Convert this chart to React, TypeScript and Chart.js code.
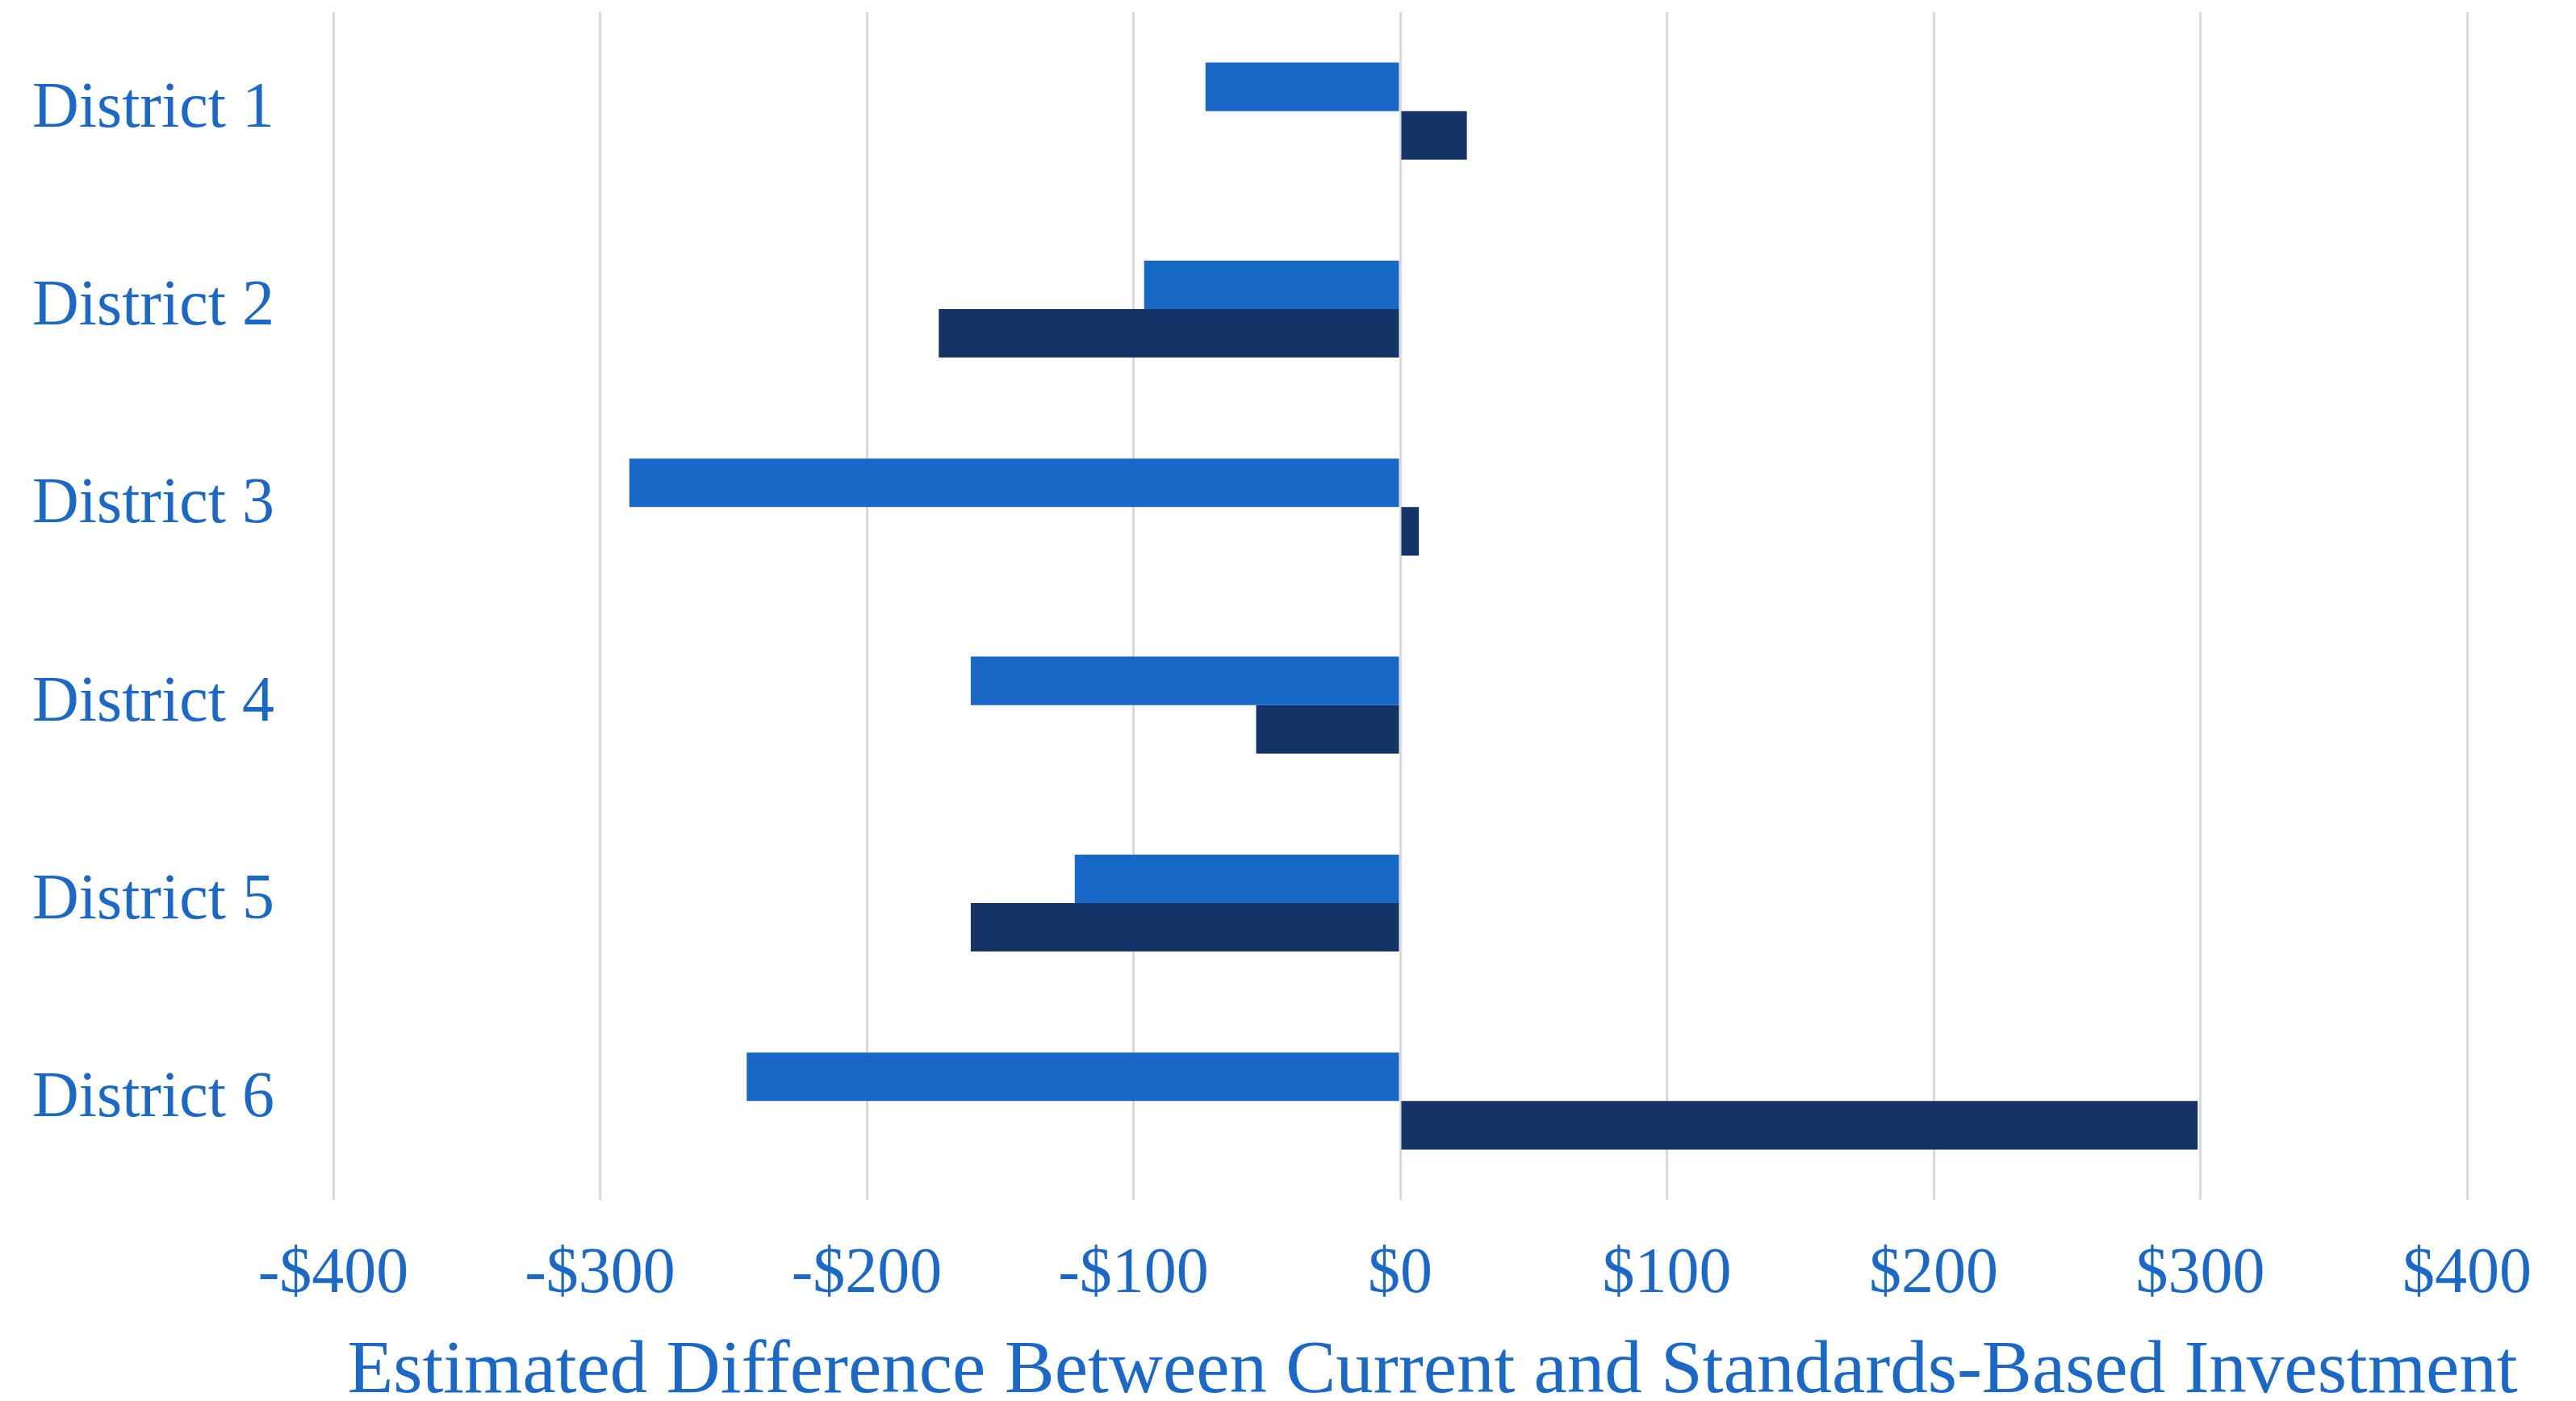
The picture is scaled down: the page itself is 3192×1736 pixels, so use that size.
import React, { useEffect, useRef } from "react";
import { Chart, registerables } from "chart.js";

Chart.register(...registerables);

const categories = ["District 1", "District 2", "District 3", "District 4", "District 5", "District 6"];
const seriesA = [-73, -96, -289, -161, -122, -245];
const seriesB = [25, -173, 7, -54, -161, 299];
const xTickValues = [-400, -300, -200, -100, 0, 100, 200, 300, 400];
const axisTitle = "Estimated Difference Between Current and Standards-Based Investment";

const TEXT_COLOR = "#1a69c8";
const FONT = "'Liberation Serif', 'Times New Roman', serif";

export default function App() {
  const ref = useRef<HTMLCanvasElement | null>(null);

  useEffect(() => {
    if (!ref.current) return;
    const titlePlugin = {
      id: "bottomTitle",
      afterDraw(chart: any) {
        const ctx = chart.ctx;
        ctx.save();
        ctx.font = `93px ${FONT}`;
        ctx.fillStyle = TEXT_COLOR;
        ctx.textAlign = "center";
        ctx.textBaseline = "alphabetic";
        ctx.fillText(axisTitle, 1775, 1725);
        ctx.restore();
      },
    };
    const chart = new Chart(ref.current, {
      type: "bar",
      data: {
        labels: categories,
        datasets: [
          {
            label: "Series A",
            data: seriesA,
            backgroundColor: "#1868c8",
            categoryPercentage: 0.49,
            barPercentage: 1,
          },
          {
            label: "Series B",
            data: seriesB,
            backgroundColor: "#153366",
            categoryPercentage: 0.49,
            barPercentage: 1,
          },
        ],
      },
      options: {
        indexAxis: "y",
        responsive: false,
        animation: false,
        layout: { padding: { left: 40, top: 15, right: 135, bottom: 0 } },
        plugins: {
          legend: { display: false },
          tooltip: { enabled: false },
        },
        scales: {
          x: {
            min: -400,
            max: 400,
            afterBuildTicks: (scale: any) => {
              scale.ticks = xTickValues.map((v) => ({ value: v }));
            },
            afterFit: (scale: any) => {
              scale.height = 249;
            },
            grid: { color: "#d9d9d9", lineWidth: 3, drawTicks: false },
            border: { display: false },
            ticks: {
              padding: 45,
              color: TEXT_COLOR,
              font: { family: FONT, size: 80 },
              maxRotation: 0,
              callback: (v: any) => (Number(v) < 0 ? "-$" + Math.abs(Number(v)) : "$" + v),
            },
          },
          y: {
            afterFit: (scale: any) => {
              scale.width = 373;
              scale.paddingTop = 0;
              scale.paddingBottom = 0;
            },
            grid: { display: false, drawTicks: false },
            border: { display: false },
            ticks: {
              crossAlign: "far",
              color: TEXT_COLOR,
              font: { family: FONT, size: 80 },
              labelOffset: -2,
            },
          },
        },
      },
      plugins: [titlePlugin],
    });
    return () => chart.destroy();
  }, []);

  return (
    <div style={{ position: "fixed", left: 0, top: 0, width: 3192, height: 1736, background: "#fff" }}>
      <canvas ref={ref} width={3192} height={1736} style={{ width: 3192, height: 1736, display: "block" }} />
    </div>
  );
}
